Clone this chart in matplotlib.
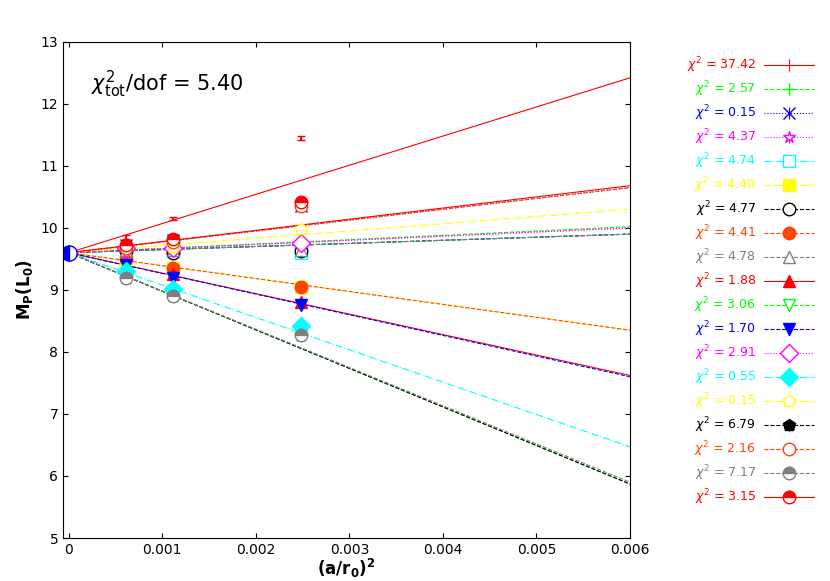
import matplotlib
matplotlib.use("Agg")
import matplotlib.pyplot as plt
import numpy as np

x_pts = [0.000609, 0.00111, 0.00248]
x_end = 0.006
intercept = 9.6
chi2 = ["37.42","2.57","0.15","4.37","4.74","4.40","4.77","4.41","4.78","1.88",
        "3.06","1.70","2.91","0.55","0.15","6.79","2.16","7.17","3.15"]
colors = ["red","#00ff00","blue","magenta","cyan","yellow","black","orangered","gray","red",
          "#00ff00","blue","magenta","cyan","yellow","black","orangered","gray","red"]
styles = ["-","--",":",":","-.","-.","--","--","--","-","--","--",":","-.","-.","--","--","--","-"]
markers = ["None","+","x","*","s","s","o","o","^","^","v","v","D","D","p","p","o","o","o"]
filled = [1,1,1,0,0,1,0,1,0,1,0,1,0,1,0,1,0,2,2]
line_end = [12.42,10.02,10.65,10.0,9.9,8.35,9.9,8.35,9.9,7.62,5.87,7.6,10.0,6.47,10.3,5.87,10.65,5.9,10.68]
y_vals = [
    [9.85,10.15,11.45],[9.68,9.68,9.75],[9.72,9.8,10.35],[9.68,9.68,9.75],[9.62,9.62,9.6],
    [9.5,9.35,9.05],[9.62,9.6,9.62],[9.5,9.35,9.05],[9.65,9.65,9.65],[9.42,9.25,8.8],
    [9.2,8.92,8.27],[9.4,9.2,8.75],[9.68,9.68,9.75],[9.3,9.02,8.42],[9.7,9.7,9.98],
    [9.2,8.9,8.27],[9.68,9.78,10.35],[9.2,8.9,8.27],[9.72,9.82,10.42]]
y_err = 0.03

fig = plt.figure(figsize=(8.3,5.81), dpi=100)
ax = fig.add_axes([0.076,0.074,0.683,0.854])
handles=[]
for i in range(len(chi2)):
    c=colors[i]
    ax.plot([0,x_end],[intercept,line_end[i]],color=c,ls=styles[i],lw=0.8)
    mfc = 'white' if filled[i]==0 else c
    fs = 'top' if filled[i]==2 else 'full'
    ax.errorbar(x_pts,y_vals[i],yerr=y_err,ls='none',color=c,marker=markers[i],ms=9,mew=1,capsize=3,
                mfc=mfc,fillstyle=fs,markerfacecoloralt='white')
    h=ax.errorbar([],[],yerr=[],color=c,ls=styles[i],lw=0.8,marker=markers[i],ms=9,mew=1,capsize=4,
                  mfc=mfc,fillstyle=fs,markerfacecoloralt='white')
    handles.append(h)
ax.plot([0],[intercept],marker='o',ms=11,color='blue',fillstyle='left',markerfacecoloralt='white')
ax.set_xlim(-0.00006,0.006)
ax.set_ylim(5,13)
ax.set_xticks([0,0.001,0.002,0.003,0.004,0.005,0.006])
ax.set_xticklabels(["0","0.001","0.002","0.003","0.004","0.005","0.006"])
ax.tick_params(direction='in',top=True,right=True,labelsize=10)
ax.set_xlabel(r"$\mathbf{(a/r_0)^2}$",fontsize=12,labelpad=0)
ax.set_ylabel(r"$\mathbf{M_P(L_0)}$",fontsize=12)
ax.text(0.05,0.9,r"$\chi^2_{\rm tot}$/dof = 5.40",transform=ax.transAxes,fontsize=15)
leg=fig.legend(handles,[r"$\chi^2$ = "+s for s in chi2],loc='upper left',bbox_to_anchor=(0.82,0.915),
               markerfirst=False,frameon=False,fontsize=9,handlelength=4,labelspacing=0.35,handletextpad=0.6,
               borderpad=0)
for t,c in zip(leg.get_texts(),colors):
    t.set_color(c)
fig.savefig("out.png",dpi=100)
